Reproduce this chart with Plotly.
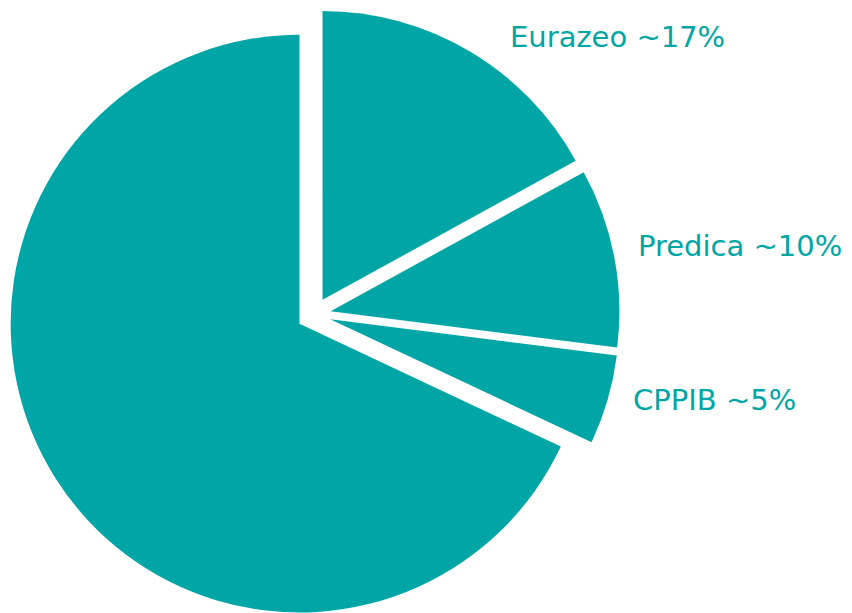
import plotly.graph_objects as go

labels = ["Eurazeo", "Predica", "CPPIB", "Other"]
values = [17, 10, 5, 68]
label_texts = ["Eurazeo ~17%", "Predica ~10%", "CPPIB ~5%"]

TEAL = "#00A5A5"
W, H = 852, 613
pull = 0.059

fig = go.Figure(go.Pie(
    labels=labels,
    values=values,
    sort=False,
    direction="clockwise",
    rotation=0,
    pull=[pull] * len(values),
    marker=dict(colors=[TEAL] * len(values), line=dict(width=0)),
    textinfo="none",
    hoverinfo="skip",
    showlegend=False,
    domain=dict(x=[0, 0.718], y=[0, 1]),
))

label_pos = [(500, 29), (628, 238), (623, 392)]
for txt, (x, y) in zip(label_texts, label_pos):
    fig.add_annotation(
        x=x / W, y=1 - y / H, xref="paper", yref="paper",
        text=txt, showarrow=False, xanchor="left", yanchor="middle",
        font=dict(family="DejaVu Sans", size=29, color=TEAL),
    )

fig.update_layout(
    width=W, height=H,
    margin=dict(l=0, r=0, t=0, b=0),
    paper_bgcolor="white", plot_bgcolor="white",
)

fig.write_html("out.html")
